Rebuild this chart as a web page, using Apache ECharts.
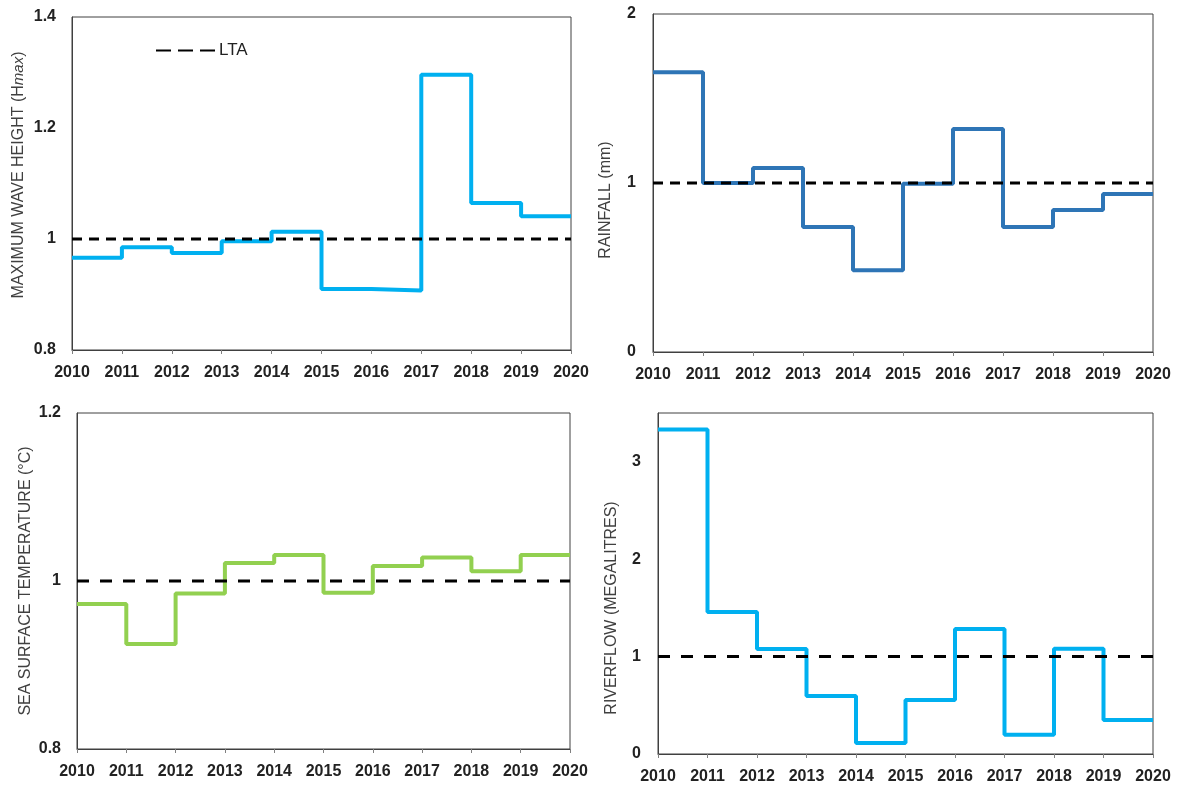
<!DOCTYPE html>
<html>
<head>
<meta charset="utf-8">
<script src="https://cdn.jsdelivr.net/npm/echarts@6/dist/echarts.min.js"></script>
<style>
  html, body { margin: 0; padding: 0; background: #fff; }
  #chart { width: 1178px; height: 789px; }
</style>
</head>
<body>
<div id="chart"></div>
<script>
// years 2010-2019, each step holds its value until the next year
const years = [2010, 2011, 2012, 2013, 2014, 2015, 2016, 2017, 2018, 2019];
const endYear = 2020;
const waveHeight = [0.966, 0.985, 0.975, 0.996, 1.013, 0.910, 0.907, 1.296, 1.065, 1.041];
const rainfall = [1.656, 1.0, 1.089, 0.74, 0.484, 0.995, 1.32, 0.74, 0.84, 0.935];
const seaTemp = [0.9725, 0.925, 0.985, 1.0215, 1.031, 0.986, 1.018, 1.028, 1.0115, 1.031];
const riverflow = [3.33, 1.458, 1.077, 0.596, 0.112, 0.555, 1.284, 0.197, 1.08, 0.35];
const ltaValue = 1;

const font = "'Liberation Sans', Arial, sans-serif";

function stepData(vals) {
  const d = years.map((y, i) => [y, vals[i]]);
  d.push([endYear, vals[vals.length - 1]]);
  return d;
}

const panels = [
  { grid: { left: 72, top: 17, width: 499, height: 333 }, min: 0.8, max: 1.4, interval: 0.2,
    name: 'MAXIMUM WAVE HEIGHT (H{i|max})', nameGap: 45, pad: [0, 0, 0, 17], labelMargin: 16,
    data: waveHeight, color: '#00B0F0', dash: [10, 7] },
  { grid: { left: 653, top: 14, width: 500, height: 338 }, min: 0, max: 2, interval: 1,
    name: 'RAINFALL (mm)', nameGap: 39, pad: [0, 34, 0, 0], labelMargin: 17,
    data: rainfall, color: '#2E75B6', dash: [10, 7] },
  { grid: { left: 77, top: 413, width: 493, height: 336 }, min: 0.8, max: 1.2, interval: 0.2,
    name: 'SEA SURFACE TEMPERATURE (°C)', nameGap: 43, pad: [0, 0, 0, 0], labelMargin: 16,
    data: seaTemp, color: '#92D050', dash: [12, 11] },
  { grid: { left: 658, top: 413, width: 495, height: 341 }, min: 0, max: 3.5, interval: 1,
    name: 'RIVERFLOW (MEGALITRES)', nameGap: 38, pad: [0, 49, 0, 0], labelMargin: 17,
    data: riverflow, color: '#00B0F0', dash: [12, 11], hideMax: true }
];

const grids = [], xAxes = [], yAxes = [], series = [];
panels.forEach((p, i) => {
  grids.push(Object.assign({ show: true, borderColor: '#404040', borderWidth: 1 }, p.grid));
  xAxes.push({
    type: 'value', gridIndex: i, min: 2010, max: endYear, interval: 1,
    splitLine: { show: false },
    axisLine: { show: true, lineStyle: { color: '#404040' } },
    axisTick: { show: true, length: 4, lineStyle: { color: '#808080' } },
    axisLabel: { formatter: (v) => String(v), fontFamily: font, fontWeight: 'bold', fontSize: 16, color: '#222', margin: 15 }
  });
  yAxes.push({
    type: 'value', gridIndex: i, min: p.min, max: p.max, interval: p.interval,
    splitLine: { show: false },
    axisLine: { show: true, lineStyle: { color: '#404040' } },
    axisTick: { show: false },
    axisLabel: { fontFamily: font, fontWeight: 'bold', fontSize: 16, color: '#222', margin: p.labelMargin,
      showMaxLabel: !p.hideMax },
    name: p.name, nameLocation: 'middle', nameGap: p.nameGap,
    nameTextStyle: { fontFamily: font, fontSize: 16, color: '#404040', padding: p.pad,
      rich: { i: { fontFamily: font, fontSize: 15, fontStyle: 'italic', color: '#404040' } } }
  });
  series.push({
    type: 'line', name: 'value' + i, xAxisIndex: i, yAxisIndex: i, step: 'end',
    showSymbol: false, symbol: 'none', data: stepData(p.data),
    lineStyle: { color: p.color, width: 4 }, itemStyle: { color: p.color }, z: 2
  });
  series.push({
    type: 'line', name: 'LTA', xAxisIndex: i, yAxisIndex: i, showSymbol: false, symbol: 'none',
    data: [[2010, ltaValue], [endYear, ltaValue]],
    lineStyle: { color: '#000', width: 3, type: p.dash }, itemStyle: { color: '#000' }, z: 3
  });
});

const chart = echarts.init(document.getElementById('chart'));
chart.setOption({
  animation: false,
  backgroundColor: '#fff',
  legend: {
    data: ['LTA'], left: 150, top: 37, itemWidth: 60, itemHeight: 14, itemGap: 4,
    itemStyle: { opacity: 0 },
    lineStyle: { type: [15, 7] },
    textStyle: { fontFamily: font, fontSize: 17, color: '#222', padding: [0, 0, 0, -2] }
  },
  grid: grids,
  xAxis: xAxes,
  yAxis: yAxes,
  series: series
});
</script>
</body>
</html>
